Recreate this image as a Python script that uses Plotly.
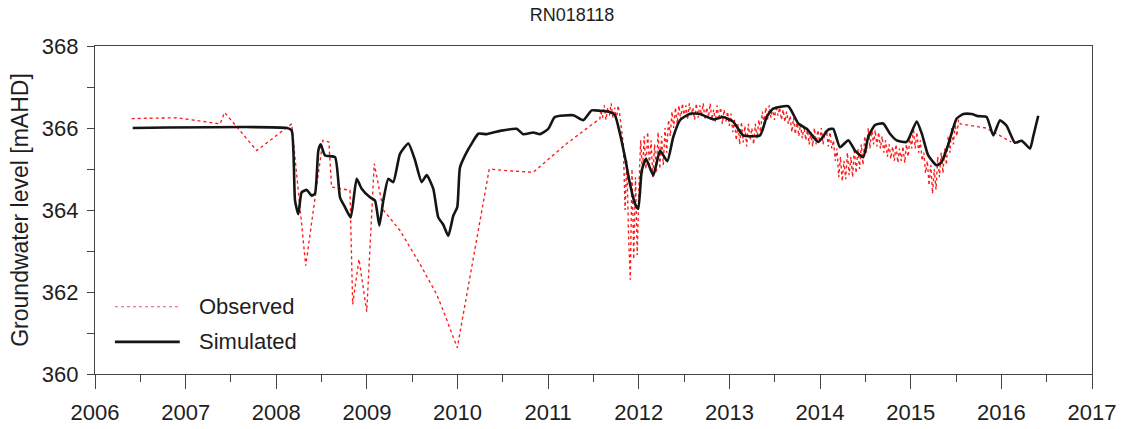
import numpy as np
import plotly.graph_objects as go

# ---- labels -------------------------------------------------------------
chart_title = "RN018118"
y_title = "Groundwater level [mAHD]"
x_tick_years = [2006, 2007, 2008, 2009, 2010, 2011, 2012, 2013, 2014, 2015, 2016, 2017]
y_tick_levels = [360, 362, 364, 366, 368]
legend_names = ["Observed", "Simulated"]

# ---- observed: manual dips (decimal year, mAHD) --------------------------
obs_manual_year = [2006.405, 2006.905, 2007.38, 2007.43, 2007.784, 2008.17, 2008.325,
                   2008.515, 2008.58, 2008.61, 2008.813, 2008.843, 2008.913, 2008.998,
                   2009.081, 2009.181, 2009.365, 2009.586, 2009.77, 2009.843, 2009.997,
                   2010.35, 2010.542, 2010.836, 2010.946, 2011.204, 2011.571]
obs_manual_level = [366.23, 366.25, 366.1, 366.38, 365.45, 366.1, 362.64,
                    365.7, 365.66, 364.56, 364.48, 361.7, 362.8, 361.52,
                    365.13, 364.0, 363.5, 362.68, 361.94, 361.54, 360.64,
                    365.0, 364.96, 364.92, 365.13, 365.62, 366.23]

# ---- observed: weekly logger record from 2011.58 ------------------------
obs_logger_start = 2011.58
obs_logger_level = [
    366.45, 366.25, 366.55, 366.2, 366.5, 366.3, 366.6, 366.25, 366.5, 366.2,
    366.55, 366.3, 365.9, 365.6, 364.0, 365.2, 363.4, 362.3, 365.0, 362.8,
    364.8, 362.9, 364.6, 365.7, 364.9, 365.8, 365.0, 365.9, 365.1, 365.7,
    364.8, 365.6, 364.9, 365.9, 365.0, 365.8, 365.1, 366.0, 365.4, 366.2,
    365.8, 366.4, 366.0, 366.5, 366.1, 366.55, 366.2, 366.6, 366.25, 366.55,
    366.2, 366.6, 366.3, 366.5, 366.2, 366.6, 366.25, 366.55, 366.3, 366.6,
    366.2, 366.5, 366.25, 366.6, 366.2, 366.45, 366.15, 366.55, 366.2, 366.5,
    366.1, 366.45, 366.15, 366.4, 366.05, 366.35, 365.9, 366.2, 365.7, 366.1,
    365.6, 366.15, 365.65, 366.05, 365.55, 366.1, 365.7, 366.0, 365.6, 366.1,
    365.75, 366.2, 365.9, 366.4, 366.1, 366.5, 366.2, 366.55, 366.25, 366.5,
    366.2, 366.55, 366.3, 366.5, 366.2, 366.45, 366.15, 366.4, 366.1, 366.3,
    365.9, 366.25, 365.85, 366.2, 365.8, 366.1, 365.75, 366.05, 365.7, 365.95,
    365.6, 365.9, 365.55, 366.0, 365.6, 365.95, 365.65, 366.0, 365.6, 365.9,
    365.95, 365.55, 365.9, 365.5, 365.7, 365.2, 365.5, 364.8, 365.3, 364.7,
    365.2, 364.75, 365.4, 364.85, 365.3, 364.8, 365.5, 364.9, 365.5, 365.0,
    365.6, 365.1, 365.8, 365.4, 366.0, 365.5, 366.0, 365.6, 365.95, 365.55,
    365.9, 365.5, 365.8, 365.4, 365.7, 365.3, 365.6, 365.25, 365.55, 365.2,
    365.6, 365.15, 365.5, 365.2, 365.55, 365.15, 365.6, 365.3, 365.8, 365.5,
    366.0, 365.5, 365.9, 365.4, 365.7, 365.2, 365.4, 364.9, 365.2, 364.6,
    365.1, 364.4, 365.0, 364.5, 365.3, 364.8, 365.4, 364.9, 365.5, 365.1,
    365.8, 365.4, 366.0, 365.6, 366.1, 365.8, 366.2, 366.1,
]
obs_tail_year = [2015.83, 2016.11]
obs_tail_level = [366.0, 365.66]

# ---- simulated heads ----------------------------------------------------
sim_year = [2006.416, 2008.118, 2008.17, 2008.207, 2008.243, 2008.28, 2008.336, 2008.391,
            2008.427, 2008.464, 2008.49, 2008.538, 2008.648, 2008.703, 2008.758, 2008.821,
            2008.887, 2008.942, 2009.034, 2009.089, 2009.137, 2009.181, 2009.236, 2009.291,
            2009.365, 2009.457, 2009.53, 2009.604, 2009.66, 2009.732, 2009.787, 2009.843,
            2009.898, 2009.953, 2009.997, 2010.027, 2010.101, 2010.156, 2010.229, 2010.321,
            2010.468, 2010.652, 2010.725, 2010.836, 2010.91, 2011.001, 2011.075, 2011.277,
            2011.387, 2011.48, 2011.571, 2011.682, 2011.737, 2011.792, 2011.847, 2011.902,
            2011.958, 2011.994, 2012.032, 2012.079, 2012.16, 2012.234, 2012.314, 2012.38,
            2012.454, 2012.565, 2012.675, 2012.821, 2012.932, 2013.042, 2013.152, 2013.337,
            2013.411, 2013.483, 2013.649, 2013.759, 2013.852, 2013.98, 2014.09, 2014.145,
            2014.219, 2014.311, 2014.385, 2014.476, 2014.531, 2014.605, 2014.697, 2014.771,
            2014.845, 2014.955, 2015.066, 2015.124, 2015.193, 2015.286, 2015.341, 2015.414,
            2015.507, 2015.58, 2015.672, 2015.745, 2015.837, 2015.911, 2015.985, 2016.059,
            2016.15, 2016.224, 2016.316, 2016.352, 2016.407]
sim_level = [366.0, 366.0, 365.94, 364.23, 363.9, 364.43, 364.49, 364.35,
             364.4, 365.45, 365.6, 365.33, 365.29, 364.31, 364.07, 363.82,
             364.76, 364.52, 364.31, 364.23, 363.62, 364.23, 364.76, 364.68,
             365.37, 365.62, 365.22, 364.68, 364.85, 364.52, 363.82, 363.64,
             363.37, 363.86, 364.07, 365.04, 365.41, 365.62, 365.86, 365.85,
             365.93, 365.98, 365.85, 365.89, 365.85, 365.98, 366.27, 366.31,
             366.19, 366.43, 366.42, 366.39, 366.31, 365.86, 365.29, 364.64,
             364.15, 364.03, 364.96, 365.25, 364.84, 365.45, 365.19, 365.78,
             366.19, 366.35, 366.34, 366.21, 366.27, 366.15, 365.82, 365.82,
             366.27, 366.47, 366.53, 366.11, 365.98, 365.66, 365.96, 365.98,
             365.53, 365.7, 365.45, 365.29, 365.78, 366.07, 366.11, 365.86,
             365.7, 365.66, 366.16, 365.85, 365.33, 365.09, 365.17, 365.6,
             366.23, 366.34, 366.34, 366.29, 366.27, 365.82, 366.19, 366.05,
             365.64, 365.69, 365.5, 365.8, 366.3]

# ---- assemble observed series ------------------------------------------
week = 7.0 / 365.25
logger_year = obs_logger_start + week * np.arange(len(obs_logger_level))
obs_year = np.concatenate([obs_manual_year, logger_year, obs_tail_year])
obs_level = np.concatenate([obs_manual_level, obs_logger_level, obs_tail_level])

OBS_COLOR = "#ff1a1a"
SIM_COLOR = "#151515"
AXIS_COLOR = "#444444"
TEXT_COLOR = "#1e1e1e"
FONT = "Liberation Sans, Arial, sans-serif"

fig = go.Figure()
fig.add_trace(go.Scatter(x=obs_year, y=obs_level, mode="lines", name=legend_names[0],
                         line=dict(color=OBS_COLOR, width=1.35, dash="dot"),
                         showlegend=False))
fig.add_trace(go.Scatter(x=sim_year, y=sim_level, mode="lines", name=legend_names[1],
                         line=dict(color=SIM_COLOR, width=2.6, shape="spline", smoothing=0.5),
                         showlegend=False))

# legend key drawn inside the lower-left corner of the plot area
key_x0, key_x1, key_text_x = 0.02, 0.085, 0.102
key_rows = [(0.205, "#f0506a", 1.1, "dot"), (0.098, SIM_COLOR, 2.6, "solid")]
for (ky, col, w, dash), name in zip(key_rows, legend_names):
    fig.add_shape(type="line", xref="paper", yref="paper", x0=key_x0, x1=key_x1,
                  y0=ky, y1=ky, line=dict(color=col, width=w, dash=dash))
    fig.add_annotation(xref="paper", yref="paper", x=key_text_x, y=ky, text=name,
                       showarrow=False, xanchor="left", yanchor="middle",
                       font=dict(size=22, color=TEXT_COLOR, family=FONT))

fig.update_layout(
    width=1126, height=429,
    margin=dict(l=95, r=34, t=46, b=55),
    paper_bgcolor="white", plot_bgcolor="white",
    font=dict(family=FONT, size=22, color=TEXT_COLOR),
    title=dict(text=chart_title, x=0.508, xanchor="center", y=0.965, yanchor="middle",
               font=dict(size=18, color=TEXT_COLOR, family=FONT)),
    showlegend=False,
)
fig.update_xaxes(
    range=[2006, 2017], tickvals=x_tick_years, ticktext=[str(v) for v in x_tick_years],
    ticks="outside", ticklen=14, tickwidth=1.2, tickcolor=AXIS_COLOR,
    minor=dict(dtick=0.5, tick0=2006, ticks="outside", ticklen=7, tickcolor=AXIS_COLOR, showgrid=False),
    showline=True, linecolor=AXIS_COLOR, linewidth=1.4, mirror=True,
    showgrid=False, zeroline=False, ticklabelstandoff=4, automargin=False,
    tickfont=dict(size=22, color=TEXT_COLOR),
)
fig.update_yaxes(
    range=[360, 368], tickvals=y_tick_levels, ticktext=[str(v) for v in y_tick_levels],
    ticks="outside", ticklen=7, tickwidth=1.2, tickcolor=AXIS_COLOR,
    minor=dict(dtick=1, tick0=360, ticks="outside", ticklen=7, tickcolor=AXIS_COLOR, showgrid=False),
    showline=True, linecolor=AXIS_COLOR, linewidth=1.4, mirror=True,
    showgrid=False, zeroline=False, ticklabelstandoff=4, automargin=False,
    title=dict(text=y_title, standoff=6, font=dict(size=23, color=TEXT_COLOR)),
    tickfont=dict(size=22, color=TEXT_COLOR),
)

fig.write_html("out.html")
